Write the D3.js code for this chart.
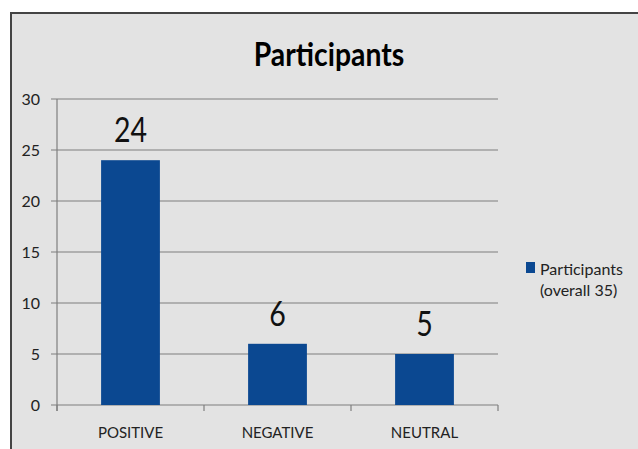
<!DOCTYPE html>
<html>
<head>
<meta charset="utf-8">
<script src="https://cdn.jsdelivr.net/npm/d3@7"></script>
<style>
    body { margin: 0; background: #fff; }
    svg { display: block; font-family: Lato, 'Open Sans', sans-serif; }
</style>
</head>
<body>
<div id="chart"></div>
<script>
const categories = ['POSITIVE', 'NEGATIVE', 'NEUTRAL'];
const values = [24, 6, 5];
const yTicks = [0, 5, 10, 15, 20, 25, 30];
const seriesName = ['Participants', '(overall 35)'];
const title = 'Participants';

const width = 638;
const height = 449;
const plot = {left: 57, right: 498, top: 99, bottom: 405};
const barColor = '#0b4891';

const svg = d3.select('#chart')
  .append('svg')
    .attr('width', width)
    .attr('height', height);

// gray chart panel, clipped on the right and bottom
svg.append('rect')
    .attr('x', 11)
    .attr('y', 13)
    .attr('width', width)
    .attr('height', height)
    .attr('fill', '#e3e3e3')
    .attr('stroke', '#444')
    .attr('stroke-width', 2);

svg.append('text')
    .attr('x', 329)
    .attr('y', 66)
    .attr('text-anchor', 'middle')
    .attr('font-size', 33)
    .attr('font-weight', 'bold')
    .attr('transform', 'translate(329,0) scale(0.86,1) translate(-329,0)')
    .text(title);

const x = d3.scaleBand()
    .domain(categories)
    .range([plot.left, plot.right])
    .paddingInner(0.6)
    .paddingOuter(0.3);

const y = d3.scaleLinear()
    .domain([0, 30])
    .range([plot.bottom, plot.top]);

// gridlines
svg.append('g')
    .selectAll('line')
    .data(yTicks)
    .join('line')
    .attr('x1', plot.left - 6)
    .attr('x2', plot.right)
    .attr('y1', d => y(d))
    .attr('y2', d => y(d))
    .attr('stroke', '#7f7f7f')
    .attr('stroke-width', 1.2);

// y axis line
svg.append('line')
    .attr('x1', plot.left)
    .attr('x2', plot.left)
    .attr('y1', plot.top)
    .attr('y2', plot.bottom + 6)
    .attr('stroke', '#7f7f7f')
    .attr('stroke-width', 1.2);

// y labels
svg.append('g')
    .selectAll('text')
    .data(yTicks)
    .join('text')
    .attr('x', 40)
    .attr('y', d => y(d) + 6)
    .attr('text-anchor', 'end')
    .attr('font-size', 16)
    .attr('fill', '#222')
    .text(d => d);

// category boundary ticks
const step = x.step();
svg.append('g')
    .selectAll('line')
    .data(d3.range(categories.length + 1))
    .join('line')
    .attr('x1', i => plot.left + i * step)
    .attr('x2', i => plot.left + i * step)
    .attr('y1', plot.bottom)
    .attr('y2', plot.bottom + 6)
    .attr('stroke', '#7f7f7f')
    .attr('stroke-width', 1.2);

svg.append('g')
    .selectAll('text')
    .data(categories)
    .join('text')
    .attr('x', d => x(d) + x.bandwidth() / 2)
    .attr('y', 438)
    .attr('text-anchor', 'middle')
    .attr('font-size', 15)
    .attr('fill', '#222')
    .text(d => d);

// bars
svg.append('g')
    .selectAll('rect')
    .data(values)
    .join('rect')
    .attr('x', (d, i) => x(categories[i]))
    .attr('y', d => y(d))
    .attr('width', x.bandwidth())
    .attr('height', d => y(0) - y(d))
    .attr('fill', barColor);

// value labels, a bit narrower like the original font
svg.append('g')
    .selectAll('text')
    .data(values)
    .join('text')
    .attr('transform', (d, i) => {
        const cx = x(categories[i]) + x.bandwidth() / 2;
        return `translate(${cx},${y(d) - 18}) scale(0.84,1)`;
    })
    .attr('text-anchor', 'middle')
    .attr('font-size', 34)
    .attr('fill', '#111')
    .text(d => d);

// legend
const legend = svg.append('g');
legend.append('rect')
    .attr('x', 526)
    .attr('y', 262)
    .attr('width', 9)
    .attr('height', 11)
    .attr('fill', barColor);
legend.append('text')
    .attr('x', 540)
    .attr('y', 275)
    .attr('font-size', 16)
    .attr('fill', '#222')
    .selectAll('tspan')
    .data(seriesName)
    .join('tspan')
    .attr('x', 540)
    .attr('dy', (d, i) => i === 0 ? 0 : 21)
    .text(d => d);
</script>
</body>
</html>
